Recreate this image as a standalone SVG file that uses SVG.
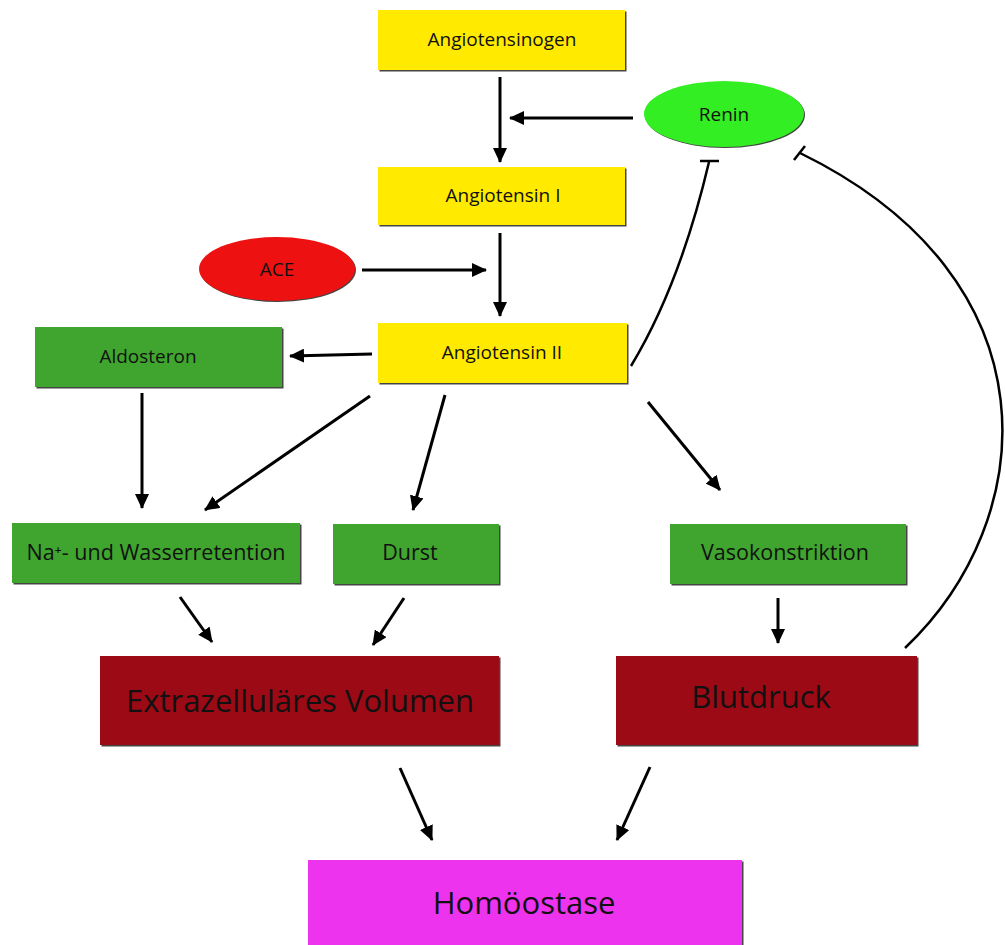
<svg xmlns="http://www.w3.org/2000/svg" width="1005" height="945" viewBox="0 0 1005 945">
<defs>
<marker id="ah" markerUnits="userSpaceOnUse" markerWidth="16" markerHeight="14" refX="14" refY="7" orient="auto">
<path d="M0,0 L15,7 L0,14 Z" fill="#000"/>
</marker>
<style>
.sh{fill:#444;}
.yel{fill:#FFEA00;}
.grn{fill:#3FA52E;}
.red{fill:#9B0A15;}
.mag{fill:#EE33EE;}
.t{font-family:"Open Sans","Liberation Sans",sans-serif;fill:#111;text-anchor:middle;}
.s{font-size:19px;}
.m{font-size:21.5px;}
.l{font-size:31px;}
.c{fill:none;stroke:#000;stroke-width:3;marker-end:url(#ah);}
.inh{fill:none;stroke:#000;stroke-width:2.5;}
</style>
</defs>
<rect width="1005" height="945" fill="#fff"/>

<g id="connectors">
<line class="c" x1="500" y1="77" x2="500" y2="162"/>
<line class="c" x1="633" y1="118" x2="510" y2="118"/>
<line class="c" x1="500" y1="233" x2="500" y2="316"/>
<line class="c" x1="362" y1="270" x2="486" y2="270"/>
<line class="c" x1="372" y1="354" x2="290" y2="356"/>
<line class="c" x1="142" y1="393" x2="142" y2="508"/>
<line class="c" x1="370" y1="396" x2="205" y2="510"/>
<line class="c" x1="445" y1="395" x2="413" y2="510"/>
<line class="c" x1="648" y1="402" x2="720" y2="490"/>
<line class="c" x1="180" y1="597" x2="212" y2="642"/>
<line class="c" x1="404" y1="598" x2="373" y2="645"/>
<line class="c" x1="778" y1="598" x2="778" y2="643"/>
<line class="c" x1="400" y1="768" x2="432" y2="840"/>
<line class="c" x1="650" y1="767" x2="617" y2="840"/>
<path class="inh" d="M631,366 Q680,285 709,162"/>
<line class="inh" x1="700" y1="161" x2="719" y2="161"/>
<path class="inh" d="M905,648 C1040,520 1060,280 800,153"/>
<line class="inh" x1="794" y1="160" x2="805" y2="146"/>
</g>

<g id="angiotensinogen">
<rect class="sh" x="379.5" y="11.5" width="247" height="60"/>
<rect class="yel" x="378" y="10" width="247" height="60"/>
<text class="t s" x="502" y="46">Angiotensinogen</text>
</g>
<g id="renin">
<ellipse class="sh" cx="725" cy="115" rx="80" ry="33"/>
<ellipse cx="724" cy="114" rx="80" ry="33" fill="#33EE22"/>
<text class="t s" x="724" y="121">Renin</text>
</g>
<g id="angiotensin1">
<rect class="sh" x="379.5" y="168.5" width="247" height="58"/>
<rect class="yel" x="378" y="167" width="247" height="58"/>
<text class="t s" x="503" y="202">Angiotensin I</text>
</g>
<g id="ace">
<ellipse class="sh" cx="278" cy="270" rx="78" ry="32"/>
<ellipse cx="277" cy="269" rx="78" ry="32" fill="#EE1111"/>
<text class="t s" x="277" y="276">ACE</text>
</g>
<g id="angiotensin2">
<rect class="sh" x="379.5" y="324.5" width="249" height="60"/>
<rect class="yel" x="378" y="323" width="249" height="60"/>
<text class="t s" x="502" y="359">Angiotensin II</text>
</g>
<g id="aldosteron">
<rect class="sh" x="36.5" y="328.5" width="247" height="60"/>
<rect class="grn" x="35" y="327" width="247" height="60"/>
<text class="t s" x="148" y="363">Aldosteron</text>
</g>
<g id="retention">
<rect class="sh" x="13.5" y="524.5" width="288" height="60"/>
<rect class="grn" x="12" y="523" width="288" height="60"/>
<text class="t m" x="156" y="560">Na⁺- und Wasserretention</text>
</g>
<g id="durst">
<rect class="sh" x="334.5" y="525.5" width="166" height="60"/>
<rect class="grn" x="333" y="524" width="166" height="60"/>
<text class="t m" x="410" y="560">Durst</text>
</g>
<g id="vasokonstriktion">
<rect class="sh" x="671.5" y="525.5" width="236" height="60"/>
<rect class="grn" x="670" y="524" width="236" height="60"/>
<text class="t m" x="785" y="560">Vasokonstriktion</text>
</g>
<g id="volumen">
<rect class="sh" x="101.5" y="657.5" width="399" height="89"/>
<rect class="red" x="100" y="656" width="399" height="89"/>
<text class="t l" x="300" y="712">Extrazelluläres Volumen</text>
</g>
<g id="blutdruck">
<rect class="sh" x="617.5" y="657.5" width="301" height="89"/>
<rect class="red" x="616" y="656" width="301" height="89"/>
<text class="t l" x="761" y="708">Blutdruck</text>
</g>
<g id="homoeostase">
<rect class="sh" x="309.5" y="861.5" width="434" height="90"/>
<rect class="mag" x="308" y="860" width="434" height="90"/>
<text class="t l" x="524" y="914">Homöostase</text>
</g>
</svg>
